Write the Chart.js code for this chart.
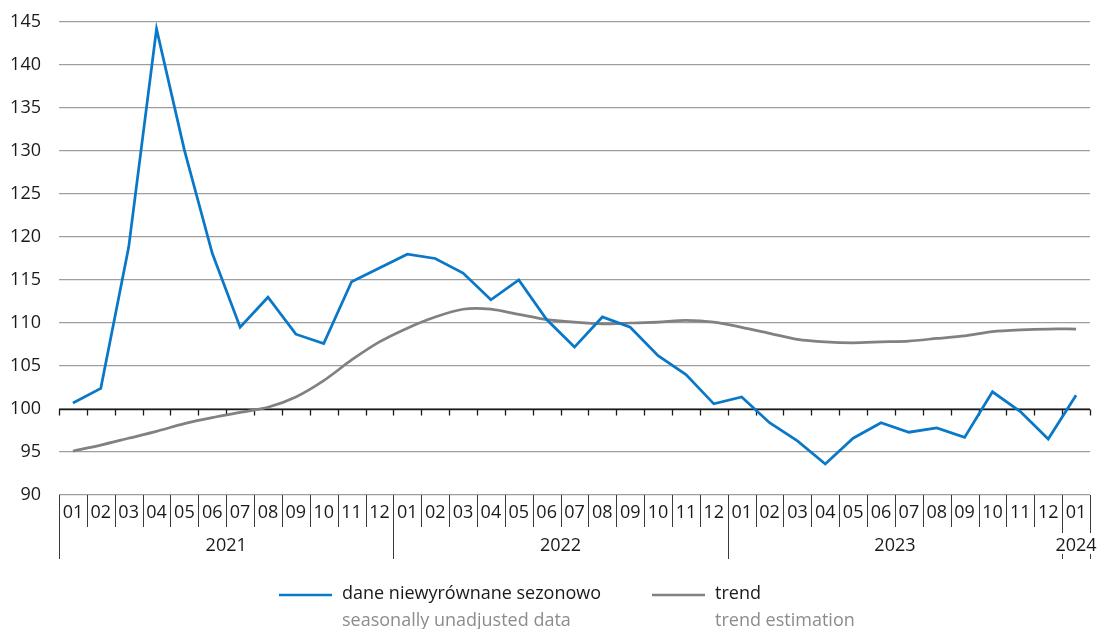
<!DOCTYPE html>
<html>
<head>
<meta charset="utf-8">
<script src="https://cdn.jsdelivr.net/npm/chart.js@4/dist/chart.umd.min.js"></script>
<style>
  html, body { margin: 0; padding: 0; background: #ffffff; }
  #wrap { width: 1098px; height: 629px; position: relative; }
</style>
</head>
<body>
<div id="wrap"><canvas id="c" width="1098" height="629"></canvas></div>
<script>
// ---- data ----
const months = ['01','02','03','04','05','06','07','08','09','10','11','12',
                '01','02','03','04','05','06','07','08','09','10','11','12',
                '01','02','03','04','05','06','07','08','09','10','11','12',
                '01'];
const yearLabels = ['2021', '2022', '2023', '2024'];
const yearMonthCounts = [12, 12, 12, 1];

const unadjusted = [100.7, 102.4, 118.8, 144.2, 130.1, 118.1, 109.5, 113.0, 108.7, 107.6, 114.8, 116.4,
                    118.0, 117.5, 115.8, 112.7, 115.0, 110.4, 107.2, 110.7, 109.5, 106.2, 104.0, 100.6,
                    101.4, 98.4, 96.3, 93.6, 96.6, 98.4, 97.3, 97.8, 96.7, 102.0, 99.7, 96.5,
                    101.6];
const trend = [95.1, 95.8, 96.6, 97.4, 98.3, 99.0, 99.6, 100.2, 101.4, 103.3, 105.7, 107.8,
               109.4, 110.7, 111.6, 111.6, 111.0, 110.4, 110.1, 109.9, 110.0, 110.1, 110.3, 110.1,
               109.5, 108.8, 108.1, 107.8, 107.7, 107.8, 107.9, 108.2, 108.5, 109.0, 109.2, 109.3,
               109.3];

const yTicks = [90, 95, 100, 105, 110, 115, 120, 125, 130, 135, 140, 145];
const seriesNamesPL = ['dane niewyrównane sezonowo', 'trend'];
const seriesNamesEN = ['seasonally unadjusted data', 'trend estimation'];
const seriesColors = ['#0a78c8', '#818181'];

const FONT = '"Open Sans", "Noto Sans", sans-serif';

// ---- custom drawing: axis at 100, category table, legend ----
const tablePlugin = {
  id: 'tablePlugin',
  beforeDatasetsDraw(chart) {
    const { ctx, chartArea: a, scales: { y } } = chart;
    const n = months.length;
    const w = (a.right - a.left) / n;
    const y100 = Math.round(y.getPixelForValue(100)) + 0.5;
    ctx.save();
    ctx.strokeStyle = '#1a1a1a';
    ctx.lineWidth = 1.3;
    ctx.beginPath();
    ctx.moveTo(a.left, y100);
    ctx.lineTo(a.right, y100);
    for (let k = 0; k <= n; k++) {
      const bx = Math.round(a.left + k * w) + 0.5;
      ctx.moveTo(bx, y100);
      ctx.lineTo(bx, y100 + 6);
    }
    ctx.stroke();
    ctx.restore();
  },
  afterDraw(chart) {
    const { ctx, chartArea: a, scales: { x, y } } = chart;
    const n = months.length;
    const w = (a.right - a.left) / n;
    const top = Math.round(y.getPixelForValue(90));
    ctx.save();
    // month separators
    ctx.strokeStyle = '#3a3a3a';
    ctx.lineWidth = 1;
    ctx.beginPath();
    for (let k = 0; k <= n; k++) {
      const bx = Math.round(a.left + k * w) + 0.5;
      ctx.moveTo(bx, top);
      ctx.lineTo(bx, top + 32);
    }
    // year separators
    let idx = 0;
    const yearBounds = [0];
    yearMonthCounts.forEach(c => { idx += c; yearBounds.push(idx); });
    yearBounds.forEach(b => {
      const bx = Math.round(a.left + b * w) + 0.5;
      ctx.moveTo(bx, top);
      ctx.lineTo(bx, top + 64);
    });
    ctx.stroke();

    // month labels
    ctx.fillStyle = '#1a1a1a';
    ctx.font = '18px ' + FONT;
    ctx.textAlign = 'center';
    ctx.textBaseline = 'middle';
    months.forEach((m, i) => {
      ctx.fillText(m, x.getPixelForValue(i), top + 18);
    });
    // year labels
    yearLabels.forEach((yl, j) => {
      const s = yearBounds[j], e = yearBounds[j + 1];
      const cx = (x.getPixelForValue(s) + x.getPixelForValue(e - 1)) / 2;
      const tw = ctx.measureText(yl).width;
      ctx.fillStyle = '#ffffff';
      ctx.fillRect(cx - tw / 2 - 1, top + 38, tw + 2, 21);
      ctx.fillStyle = '#1a1a1a';
      ctx.fillText(yl, cx, top + 51);
    });

    // legend
    const legX = [279, 652];
    const sampleLen = 53;
    const legY = 595;
    ctx.textAlign = 'left';
    seriesNamesPL.forEach((name, i) => {
      ctx.strokeStyle = seriesColors[i];
      ctx.lineWidth = 2.5;
      ctx.beginPath();
      ctx.moveTo(legX[i], legY);
      ctx.lineTo(legX[i] + sampleLen, legY);
      ctx.stroke();
      ctx.fillStyle = '#1a1a1a';
      ctx.fillText(name, legX[i] + sampleLen + 10, legY - 1);
      ctx.fillStyle = '#8c8c8c';
      ctx.fillText(seriesNamesEN[i], legX[i] + sampleLen + 10, legY + 26);
    });
    ctx.restore();
  }
};

new Chart(document.getElementById('c'), {
  type: 'line',
  data: {
    labels: months,
    datasets: [
      { label: seriesNamesPL[1], data: trend, borderColor: seriesColors[1], borderWidth: 2.75,
        pointRadius: 0, tension: 0.25, fill: false, order: 2 },
      { label: seriesNamesPL[0], data: unadjusted, borderColor: seriesColors[0], borderWidth: 2.75,
        pointRadius: 0, tension: 0, fill: false, order: 1 }
    ]
  },
  options: {
    responsive: false,
    animation: false,
    devicePixelRatio: 1,
    layout: { padding: { top: 22, right: 8, bottom: 134, left: 0 } },
    plugins: { legend: { display: false }, tooltip: { enabled: false } },
    scales: {
      x: { display: false, offset: true },
      y: {
        min: 90, max: 145,
        afterFit(scale) { scale.width = 59; scale.paddingTop = 0; scale.paddingBottom = 0; },
        afterBuildTicks(scale) { scale.ticks = yTicks.map(v => ({ value: v })); },
        ticks: { color: '#1a1a1a', font: { size: 18, family: FONT }, padding: 18 },
        grid: { color: '#9e9e9e', lineWidth: 1.3, drawTicks: false },
        border: { display: false }
      }
    }
  },
  plugins: [tablePlugin]
});
</script>
</body>
</html>
